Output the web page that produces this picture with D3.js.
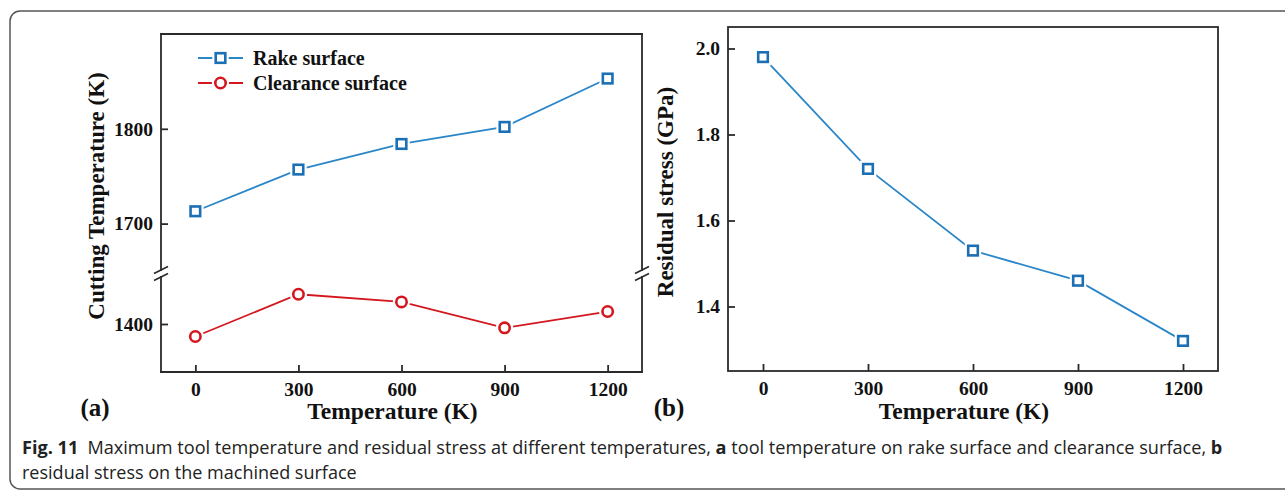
<!DOCTYPE html>
<html>
<head>
<meta charset="utf-8">
<script src="https://cdn.jsdelivr.net/npm/d3@7"></script>
<style>
  body { margin: 0; background: #fff; }
  svg { display: block; }
  .serif { font-family: "Liberation Serif", "Times New Roman", serif; font-weight: bold; fill: #111; }
</style>
</head>
<body>
<div class="fig"></div>
<script>
// values
var temps = [0, 300, 600, 900, 1200]
var rakeTemp = [1713, 1757, 1784, 1802, 1853]
var clearanceTemp = [1387, 1431, 1423, 1396, 1413]
var residualStress = [1.98, 1.72, 1.53, 1.46, 1.32]
var xTicks = [0, 300, 600, 900, 1200]
var yTicksA = [1400, 1700, 1800]
var yTicksB = [1.4, 1.6, 1.8, 2.0]
var seriesNames = ["Rake surface", "Clearance surface"]

var width = 1285, height = 492
var blue = "#1a6fb5", blueLine = "#2b86c8", red = "#d4161e", axisCol = "#2a2a2a"

var svg = d3.select(".fig").append("svg")
    .attr("width", width)
    .attr("height", height)

// outer figure frame
svg.append("rect")
    .attr("x", 10).attr("y", 11)
    .attr("width", 1320).attr("height", 478)
    .attr("rx", 10)
    .attr("fill", "none").attr("stroke", "#555").attr("stroke-width", 1.5)

// ---- panel (a) ----
var xA = d3.scaleLinear().domain([-100, 1300]).range([161, 642])
// broken y axis: lower segment 1350-1450, upper 1650-1900
var yA = d3.scaleLinear().domain([1350, 1450, 1650, 1900]).range([372, 276, 271, 34])
var xB = d3.scaleLinear().domain([-100, 1300]).range([728, 1218])
var yB = d3.scaleLinear().domain([1.25, 2.05]).range([371, 27])

function styleAxis(g) {
  g.select(".domain").remove()
  g.selectAll(".tick line").attr("stroke", axisCol).attr("stroke-width", 1.8)
  g.selectAll(".tick text").attr("class", "serif").attr("font-size", 19.5)
}

var gA = svg.append("g")
gA.append("g")
    .attr("transform", "translate(0,372)")
    .call(d3.axisBottom(xA).tickValues(xTicks).tickFormat(d3.format("d"))
      .tickSizeInner(-7).tickSizeOuter(0).tickPadding(10))
    .call(styleAxis)
gA.append("g")
    .attr("transform", "translate(161,0)")
    .call(d3.axisLeft(yA).tickValues(yTicksA).tickFormat(d3.format("d"))
      .tickSizeInner(-7).tickSizeOuter(0).tickPadding(8))
    .call(styleAxis)

// box with breaks on left and right sides
var brkTop = 270, brkBot = 277
var boxA = [
  [[161, 34], [642, 34]],
  [[161, 372], [642, 372]],
  [[161, 34], [161, brkTop]], [[161, brkBot], [161, 372]],
  [[642, 34], [642, brkTop]], [[642, brkBot], [642, 372]]
]
gA.selectAll("line.box").data(boxA).enter().append("line")
    .attr("x1", d => d[0][0]).attr("y1", d => d[0][1])
    .attr("x2", d => d[1][0]).attr("y2", d => d[1][1])
    .attr("stroke", axisCol).attr("stroke-width", 1.8).attr("stroke-linecap", "square")
;[161, 642].forEach(function(x) {
  [brkTop, brkBot].forEach(function(y) {
    gA.append("line")
        .attr("x1", x - 7).attr("y1", y + 3.5)
        .attr("x2", x + 7).attr("y2", y - 3.5)
        .attr("stroke", axisCol).attr("stroke-width", 1.6)
  })
})

var lineA = d3.line().x((d, i) => xA(temps[i])).y(d => yA(d))

function drawSeries(g, vals, line, xs, ys, shape, col, lcol) {
  g.append("path").datum(vals)
      .attr("d", line)
      .attr("fill", "none").attr("stroke", lcol).attr("stroke-width", 1.8)
  vals.forEach(function(v, i) {
    drawMarker(g, xs(temps[i]), ys(v), shape, col)
  })
}
function drawMarker(g, cx, cy, shape, col) {
  if (shape == "square") {
    g.append("rect").attr("x", cx - 5).attr("y", cy - 5).attr("width", 10).attr("height", 10)
        .attr("fill", "#fff").attr("stroke", "#fff").attr("stroke-width", 6.5)
    g.append("rect").attr("x", cx - 4.8).attr("y", cy - 4.8).attr("width", 9.6).attr("height", 9.6)
        .attr("fill", "#fff").attr("stroke", col).attr("stroke-width", 2.6)
  } else {
    g.append("circle").attr("cx", cx).attr("cy", cy).attr("r", 5.4)
        .attr("fill", "#fff").attr("stroke", "#fff").attr("stroke-width", 6.5)
    g.append("circle").attr("cx", cx).attr("cy", cy).attr("r", 5.2)
        .attr("fill", "#fff").attr("stroke", col).attr("stroke-width", 2.6)
  }
}

drawSeries(gA, rakeTemp, lineA, xA, yA, "square", blue, blueLine)
drawSeries(gA, clearanceTemp, lineA, xA, yA, "circle", red, red)

// legend
var legend = [
  {name: seriesNames[0], y: 58, shape: "square", col: blue, lcol: blueLine},
  {name: seriesNames[1], y: 83, shape: "circle", col: red, lcol: red}
]
legend.forEach(function(d) {
  gA.append("line").attr("x1", 198).attr("x2", 243).attr("y1", d.y).attr("y2", d.y)
      .attr("stroke", d.lcol).attr("stroke-width", 1.8)
  drawMarker(gA, 220.5, d.y, d.shape, d.col)
  gA.append("text").attr("class", "serif").attr("x", 253).attr("y", d.y).attr("dy", "0.35em")
      .attr("font-size", 20).text(d.name)
})

gA.append("text").attr("class", "serif")
    .attr("transform", "translate(96,196) rotate(-90)")
    .attr("text-anchor", "middle").attr("dominant-baseline", "central")
    .attr("font-size", 23).text("Cutting Temperature (K)")
gA.append("text").attr("class", "serif")
    .attr("x", xA(600) - 9).attr("y", 419).attr("text-anchor", "middle")
    .attr("font-size", 23.5).text("Temperature (K)")
gA.append("text").attr("class", "serif")
    .attr("x", 95).attr("y", 416).attr("text-anchor", "middle")
    .attr("font-size", 25).text("(a)")

// ---- panel (b) ----
var gB = svg.append("g")
gB.append("g")
    .attr("transform", "translate(0,371)")
    .call(d3.axisBottom(xB).tickValues(xTicks).tickFormat(d3.format("d"))
      .tickSizeInner(-7).tickSizeOuter(0).tickPadding(10))
    .call(styleAxis)
gB.append("g")
    .attr("transform", "translate(728,0)")
    .call(d3.axisLeft(yB).tickValues(yTicksB).tickFormat(d3.format(".1f"))
      .tickSizeInner(-7).tickSizeOuter(0).tickPadding(8))
    .call(styleAxis)
gB.append("rect")
    .attr("x", 728).attr("y", 27).attr("width", 1218 - 728).attr("height", 371 - 27)
    .attr("fill", "none").attr("stroke", axisCol).attr("stroke-width", 1.8)

var lineB = d3.line().x((d, i) => xB(temps[i])).y(d => yB(d))
drawSeries(gB, residualStress, lineB, xB, yB, "square", blue, blueLine)

gB.append("text").attr("class", "serif")
    .attr("transform", "translate(665,192) rotate(-90)")
    .attr("text-anchor", "middle").attr("dominant-baseline", "central")
    .attr("font-size", 23).text("Residual stress (GPa)")
gB.append("text").attr("class", "serif")
    .attr("x", xB(600) - 9).attr("y", 419).attr("text-anchor", "middle")
    .attr("font-size", 23.5).text("Temperature (K)")
gB.append("text").attr("class", "serif")
    .attr("x", 669).attr("y", 416).attr("text-anchor", "middle")
    .attr("font-size", 25).text("(b)")

// ---- caption ----
// caption font in the figure is a narrow sans, so squeeze horizontally to the measured width
function captionLine(y, targetW, parts) {
  var t = svg.append("text")
      .attr("font-family", "'Open Sans', 'Noto Sans', sans-serif")
      .attr("font-size", 18.5).attr("fill", "#222")
  parts.forEach(function(p) {
    t.append("tspan").attr("font-weight", p[1] ? "bold" : null).text(p[0])
  })
  var w = t.node().getComputedTextLength()
  t.attr("transform", "translate(22," + y + ") scale(" + (targetW / w) + ",1)")
}
captionLine(454, 1201, [
  ["Fig. 11", true],
  ["\u2002Maximum tool temperature and residual stress at different temperatures, ", false],
  ["a", true],
  [" tool temperature on rake surface and clearance surface, ", false],
  ["b", true]
])
captionLine(479, 335, [["residual stress on the machined surface", false]])
</script>
</body>
</html>
